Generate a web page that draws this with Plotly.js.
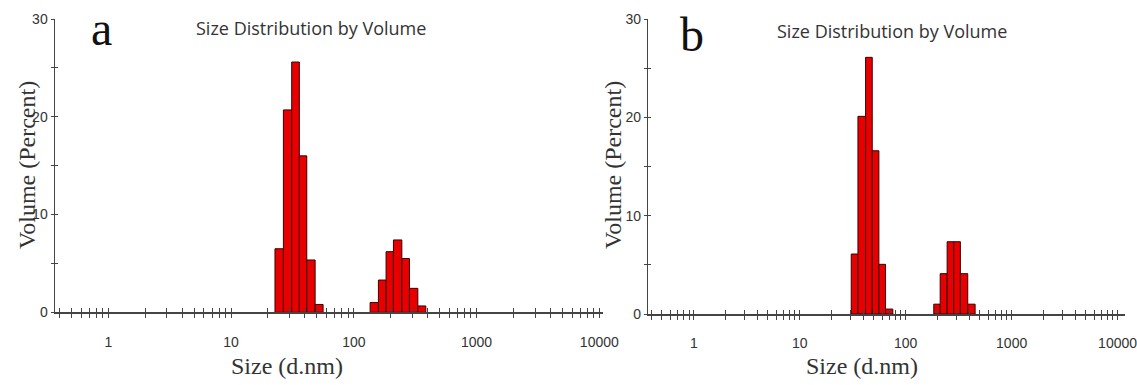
<!DOCTYPE html>
<html>
<head>
<meta charset="utf-8">
<script src="https://cdn.plot.ly/plotly-3.0.1.min.js"></script>
<style>html,body{margin:0;padding:0;background:#fff;}#chart{width:1137px;height:385px;}</style>
</head>
<body>
<div id="chart"></div>
<script>
// ---- Data ----
// Panel a: bin edges (d.nm) and volume % per bin, two populations
const edgesA1 = [22.8, 26.7, 31.2, 36.0, 41.4, 48.4, 56.2];
const volA1   = [6.5, 20.7, 25.6, 16.0, 5.35, 0.8];
const edgesA2 = [135.8, 158.7, 183.2, 210.3, 246.2, 284.0, 332.4, 386.0];
const volA2   = [1.0, 3.3, 6.2, 7.4, 5.5, 2.45, 0.65];
// Panel b
const edgesB1 = [30.6, 35.4, 41.8, 48.3, 55.8, 64.5, 75.6];
const volB1   = [6.1, 20.1, 26.1, 16.6, 5.05, 0.5];
const edgesB2 = [184, 211.5, 246, 284, 328, 385, 452];
const volB2   = [1.0, 4.1, 7.35, 7.35, 4.1, 1.0];

const xTickLabels = ['1', '10', '100', '1000', '10000'];
const yTickVals = [0, 10, 20, 30];
const titleText = 'Size Distribution by Volume';
const xTitle = 'Size (d.nm)';
const yTitle = 'Volume (Percent)';
const panelLetters = ['a', 'b'];

// ---- helpers ----
function barTrace(edges, vals, xa, ya) {
  const x = [], w = [];
  for (let i = 0; i < vals.length; i++) {
    x.push((edges[i] + edges[i + 1]) / 2);
    w.push(edges[i + 1] - edges[i]);
  }
  return {
    type: 'bar', x: x, y: vals, width: w, xaxis: xa, yaxis: ya,
    marker: {color: '#e80000', line: {color: '#3a0000', width: 1}},
    showlegend: false, hoverinfo: 'skip'
  };
}
function dummy(xa, ya) {
  return {type: 'scatter', mode: 'markers', x: [1], y: [0], xaxis: xa, yaxis: ya,
          marker: {opacity: 0, size: 1}, showlegend: false, hoverinfo: 'skip'};
}

// log tick positions: 1..9 per decade, labelled only at powers of ten
const tv = [], tt = [];
for (let d = -1; d <= 4; d++) {
  for (let m = 1; m <= 9; m++) {
    const v = m * Math.pow(10, d);
    if (v < 0.37 || v > 10000) continue;
    tv.push(v);
    tt.push(m === 1 && d >= 0 ? xTickLabels[d] : '');
  }
}

const tickFont = {family: '"Liberation Sans Narrow", "Liberation Sans", sans-serif', stretch: 'condensed', size: 14, color: '#333'};
const serif = {family: '"Liberation Serif", "DejaVu Serif", serif', size: 24, color: '#333'};
const titleFont = {family: '"Open Sans", Lato, sans-serif', size: 18, color: '#333'};
const letterFont = {family: '"Liberation Serif", serif', size: 48, color: '#111'};
const axisCol = '#444';

function xAxis(domain, range, anchor) {
  return {
    type: 'log', domain: domain, range: range, anchor: anchor,
    tickmode: 'array', tickvals: tv, ticktext: tt,
    ticks: 'outside', ticklen: 4, tickwidth: 1, tickcolor: axisCol,
    showline: true, linecolor: axisCol, linewidth: 1.5,
    showgrid: false, zeroline: false,
    tickfont: tickFont, ticklabelstandoff: 12, ticklabeloverflow: 'allow'
  };
}
function xOverlay(domain, range, anchor, over) {
  return {
    type: 'log', domain: domain, range: range, anchor: anchor, overlaying: over,
    tickmode: 'array', tickvals: tv, ticktext: tv.map(() => ''),
    ticks: 'inside', ticklen: 4, tickwidth: 1, tickcolor: axisCol,
    showline: false, showgrid: false, zeroline: false, showticklabels: false
  };
}
function yAxis(domain, anchor) {
  return {
    domain: domain, range: [0, 30], anchor: anchor,
    tickmode: 'array', tickvals: yTickVals,
    ticks: 'outside', ticklen: 3, tickwidth: 1, tickcolor: axisCol,
    minor: {tickvals: [5, 15, 25], ticks: 'outside', ticklen: 3, tickcolor: axisCol},
    showline: true, linecolor: axisCol, linewidth: 1.5,
    showgrid: false, zeroline: false,
    tickfont: tickFont, ticklabelstandoff: 0
  };
}
function yOverlay(domain, anchor, over) {
  return {
    domain: domain, range: [0, 30], anchor: anchor, overlaying: over,
    tickmode: 'array', tickvals: [0, 5, 10, 15, 20, 25, 30],
    ticks: 'inside', ticklen: 3, tickwidth: 1, tickcolor: axisCol,
    showline: false, showgrid: false, zeroline: false, showticklabels: false
  };
}

const domA = [55 / 1137, 603 / 1137];
const domB = [648.3 / 1137, 1125 / 1137];
const rangeA = [-0.434, 4.03];
const rangeB = [-0.43, 4.07];
const yDomA = [(385 - 312.3) / 385, (385 - 19) / 385];
const yDomB = [(385 - 314) / 385, (385 - 19) / 385];

const data = [
  barTrace(edgesA1, volA1, 'x', 'y'),
  barTrace(edgesA2, volA2, 'x', 'y'),
  barTrace(edgesB1, volB1, 'x2', 'y2'),
  barTrace(edgesB2, volB2, 'x2', 'y2'),
  dummy('x3', 'y3'),
  dummy('x4', 'y4')
];

function ann(text, x, y, font, extra) {
  return Object.assign({text: text, xref: 'paper', yref: 'paper', x: x / 1137, y: 1 - y / 385,
    xanchor: 'center', yanchor: 'middle', showarrow: false, font: font}, extra || {});
}

const layout = {
  width: 1137, height: 385,
  margin: {l: 0, r: 0, t: 0, b: 0},
  paper_bgcolor: '#fff', plot_bgcolor: 'rgba(0,0,0,0)',
  bargap: 0,
  xaxis: xAxis(domA, rangeA, 'y'),
  yaxis: yAxis(yDomA, 'x'),
  xaxis2: xAxis(domB, rangeB, 'y2'),
  yaxis2: yAxis(yDomB, 'x2'),
  xaxis3: xOverlay(domA, rangeA, 'y3', 'x'),
  yaxis3: yOverlay(yDomA, 'x3', 'y'),
  xaxis4: xOverlay(domB, rangeB, 'y4', 'x2'),
  yaxis4: yOverlay(yDomB, 'x4', 'y2'),
  annotations: [
    ann(titleText, 311, 28, titleFont),
    ann(titleText, 892, 31, titleFont),
    ann(panelLetters[0], 101, 0, letterFont, {yanchor: 'top', y: 1}),
    ann(panelLetters[1], 692, 6, letterFont, {yanchor: 'top'}),
    ann(xTitle, 287, 366, serif),
    ann(xTitle, 862, 366, serif),
    ann(yTitle, 27, 165, serif, {textangle: -90}),
    ann(yTitle, 613, 165, serif, {textangle: -90})
  ]
};

Plotly.newPlot('chart', data, layout, {staticPlot: true, displayModeBar: false});
</script>
</body>
</html>
